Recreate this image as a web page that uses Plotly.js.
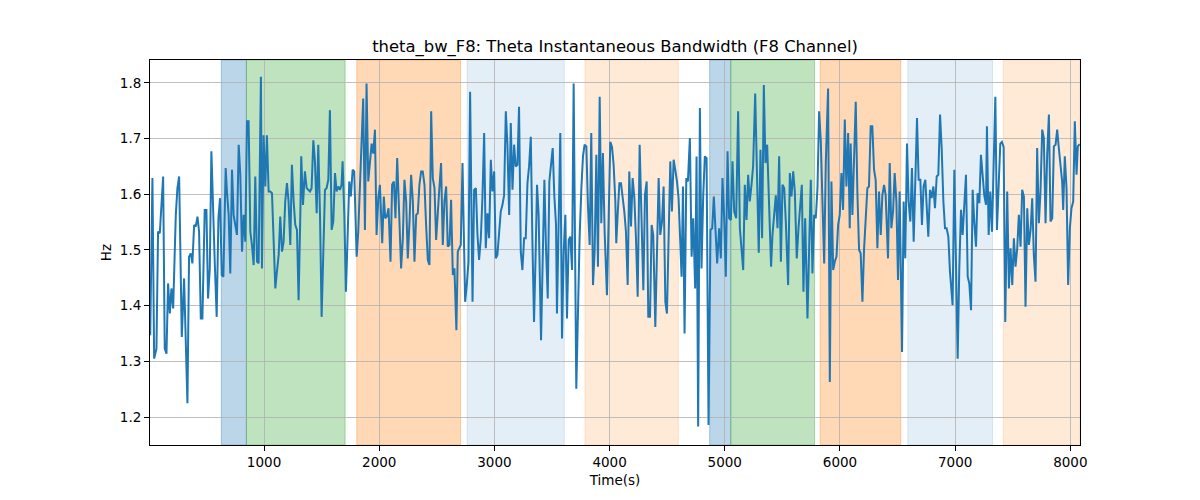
<!DOCTYPE html>
<html>
<head>
<meta charset="utf-8">
<script src="https://cdn.plot.ly/plotly-3.0.1.min.js"></script>
<style>
  html, body { margin: 0; padding: 0; background: #fff; }
  #graph { width: 1200px; height: 500px; }
</style>
</head>
<body>
<div id="graph"></div>
<script>
/* ---------------- data ---------------- */

// time stamps (s) of the bandwidth samples
var times = [
    12, 31, 46, 66, 80, 95, 124, 138, 153, 167, 182, 196, 211, 234, 248, 263, 286, 306, 335, 349,
    364, 378, 393, 407, 422, 436, 451, 465, 485, 500, 514, 529, 543, 558, 572, 589, 604, 618, 633, 647,
    667,
    678, 693, 707, 722, 736, 751, 765, 780, 794, 809, 823, 837, 852, 866, 881, 895, 910, 924, 939, 953,
    973, 982, 996, 1011, 1025, 1040, 1054, 1069, 1083, 1098, 1112, 1127, 1141, 1156, 1170, 1184, 1199, 1213, 1228, 1242,
    1257, 1271, 1286, 1300, 1315, 1323, 1338,
    1355, 1370, 1384, 1399, 1413, 1428, 1442, 1457, 1471, 1486, 1500, 1514, 1529, 1543, 1558, 1572, 1587, 1601, 1616, 1630,
    1645, 1659, 1673, 1682, 1697, 1711, 1725, 1740, 1754, 1769, 1783, 1804, 1818, 1832, 1847, 1861, 1876, 1890, 1905, 1919,
    1934, 1948, 1963, 1977, 1992, 2006,
    2026, 2040, 2052, 2066, 2081, 2098, 2112, 2127, 2141, 2156, 2170, 2190, 2205, 2219, 2234, 2248, 2263, 2277, 2292, 2306,
    2321, 2335, 2349, 2364, 2378, 2393, 2407, 2422, 2436, 2451, 2465, 2480, 2494, 2509, 2523, 2537, 2552, 2566, 2581, 2595,
    2610, 2624, 2639, 2653, 2670, 2682,
    2708, 2723, 2746, 2760, 2775, 2789, 2810, 2824, 2839, 2853, 2867, 2882, 2896, 2911, 2925, 2940, 2954, 2969, 2983, 2998,
    3012, 3026, 3041, 3055, 3070, 3084, 3099, 3113, 3128, 3142, 3157, 3171, 3185, 3200, 3214, 3229, 3243, 3258, 3272, 3287,
    3301, 3316, 3330, 3344, 3359,
    3370, 3384, 3405, 3419, 3434, 3448, 3463, 3477, 3491, 3506, 3520, 3535, 3543, 3558, 3572, 3587, 3601, 3616, 3630, 3645,
    3659, 3674, 3688, 3711, 3726, 3740, 3755, 3769, 3783, 3798, 3812, 3827, 3841, 3856, 3870, 3885, 3899, 3914, 3928, 3942,
    3957, 3977, 3992, 4006, 4021, 4035, 4050,
    4058, 4070, 4085, 4099, 4114, 4128, 4142, 4157, 4171, 4186, 4200, 4215, 4229, 4244, 4261, 4278, 4293, 4307, 4322, 4336,
    4351, 4365, 4379, 4397, 4411, 4426, 4440, 4455, 4469, 4484, 4498, 4512, 4527, 4541, 4556, 4570, 4585, 4599, 4614, 4625,
    4637, 4651, 4666, 4680, 4697, 4712, 4726,
    4743, 4755, 4769, 4784, 4798, 4813, 4827, 4842, 4859, 4876, 4891, 4905, 4920, 4934, 4951, 4966, 4980, 4995, 5009, 5024,
    5038, 5053, 5067, 5082, 5099, 5116, 5131, 5145, 5160, 5174, 5189, 5203, 5217, 5232, 5246, 5264, 5278, 5295, 5310, 5324,
    5339, 5353, 5368, 5382, 5402,
    5414, 5429, 5443, 5458, 5472, 5487, 5501, 5516, 5530, 5550, 5565, 5579, 5594, 5608, 5625, 5640, 5654, 5669, 5683, 5698,
    5718, 5732, 5747, 5761, 5776, 5790, 5805, 5819, 5834, 5848, 5863, 5877, 5897, 5912, 5926, 5941, 5955, 5970, 5984, 5998,
    6013, 6027, 6042, 6056, 6071, 6085,
    6093, 6108, 6122, 6137, 6151, 6166, 6180, 6195, 6209, 6223, 6238, 6252, 6267, 6281, 6296, 6310, 6325, 6339, 6354, 6368,
    6383, 6397, 6417, 6432, 6446, 6461, 6475, 6490, 6504, 6518, 6539, 6553, 6567, 6582, 6596, 6611, 6625, 6640, 6654, 6669,
    6683, 6698, 6712, 6726, 6741,
    6767, 6782, 6796, 6811, 6825, 6840, 6854, 6869, 6883, 6898, 6912, 6926, 6941, 6955, 6978, 6993, 7007, 7022, 7036, 7051,
    7065, 7080, 7094, 7109, 7123, 7138, 7152, 7166, 7181, 7195, 7210, 7224, 7239, 7253, 7268, 7276, 7291, 7305, 7320, 7334,
    7349, 7363, 7377, 7392, 7406, 7421, 7435,
    7452, 7467, 7481, 7496, 7510, 7524, 7539, 7553, 7568, 7582, 7597, 7611, 7626, 7640, 7655, 7669, 7683, 7698, 7712, 7727,
    7741, 7756, 7770, 7785, 7799, 7814, 7828, 7843, 7857, 7872, 7886, 7900, 7915, 7929, 7938, 7952, 7967, 7981, 7996, 8010,
    8025, 8039, 8054, 8065, 8080
];

// theta instantaneous bandwidth (Hz)
var bandwidth = [
    1.347, 1.629, 1.305, 1.323, 1.533, 1.530, 1.632, 1.323, 1.314, 1.440, 1.386, 1.431, 1.395, 1.563, 1.611, 1.632, 1.344, 1.449, 1.225, 1.488,
    1.494, 1.476, 1.545, 1.542, 1.560, 1.533, 1.377, 1.377, 1.572, 1.572, 1.413, 1.467, 1.677, 1.551, 1.479, 1.380, 1.557, 1.593, 1.455, 1.452,
    1.647,
    1.605, 1.563, 1.458, 1.644, 1.563, 1.545, 1.527, 1.689, 1.635, 1.497, 1.563, 1.515, 1.731, 1.731, 1.533, 1.509, 1.473, 1.632, 1.479, 1.476,
    1.811, 1.467, 1.706, 1.614, 1.706, 1.605, 1.605, 1.602, 1.515, 1.431, 1.461, 1.491, 1.560, 1.497, 1.515, 1.587, 1.620, 1.587, 1.509, 1.653,
    1.587, 1.545, 1.536, 1.410, 1.563, 1.668, 1.581,
    1.641, 1.611, 1.608, 1.605, 1.611, 1.697, 1.659, 1.566, 1.689, 1.563, 1.380, 1.515, 1.608, 1.611, 1.626, 1.751, 1.536, 1.551, 1.638, 1.605,
    1.614, 1.608, 1.617, 1.659, 1.563, 1.425, 1.539, 1.623, 1.596, 1.644, 1.641, 1.488, 1.533, 1.623, 1.712, 1.772, 1.536, 1.799, 1.623, 1.653,
    1.691, 1.673, 1.716, 1.527, 1.593, 1.617,
    1.512, 1.596, 1.557, 1.560, 1.575, 1.479, 1.617, 1.623, 1.557, 1.665, 1.593, 1.467, 1.521, 1.626, 1.587, 1.485, 1.551, 1.635, 1.587, 1.479,
    1.563, 1.566, 1.617, 1.641, 1.641, 1.617, 1.545, 1.482, 1.473, 1.749, 1.629, 1.611, 1.518, 1.581, 1.614, 1.656, 1.509, 1.587, 1.614, 1.506,
    1.509, 1.590, 1.455, 1.467, 1.356, 1.497,
    1.509, 1.656, 1.407, 1.437, 1.479, 1.784, 1.407, 1.608, 1.611, 1.527, 1.482, 1.521, 1.593, 1.710, 1.503, 1.566, 1.521, 1.662, 1.605, 1.641,
    1.485, 1.491, 1.539, 1.569, 1.581, 1.598, 1.749, 1.689, 1.563, 1.728, 1.608, 1.689, 1.650, 1.653, 1.757, 1.497, 1.464, 1.521, 1.521, 1.620,
    1.650, 1.703, 1.515, 1.371, 1.503,
    1.617, 1.563, 1.338, 1.479, 1.626, 1.503, 1.413, 1.623, 1.659, 1.683, 1.598, 1.545, 1.386, 1.551, 1.710, 1.341, 1.494, 1.563, 1.377, 1.518,
    1.524, 1.464, 1.799, 1.251, 1.419, 1.524, 1.611, 1.668, 1.689, 1.686, 1.581, 1.509, 1.710, 1.437, 1.497, 1.671, 1.470, 1.775, 1.548, 1.674,
    1.533, 1.419, 1.557, 1.694, 1.685, 1.653, 1.587,
    1.512, 1.563, 1.620, 1.620, 1.598, 1.569, 1.533, 1.437, 1.641, 1.542, 1.629, 1.593, 1.521, 1.416, 1.689, 1.521, 1.428, 1.598, 1.623, 1.380,
    1.380, 1.545, 1.527, 1.362, 1.515, 1.629, 1.527, 1.551, 1.614, 1.407, 1.386, 1.533, 1.659, 1.569, 1.662, 1.644, 1.623, 1.593, 1.488, 1.452,
    1.614, 1.350, 1.629, 1.623, 1.701, 1.488, 1.557,
    1.431, 1.668, 1.183, 1.755, 1.467, 1.598, 1.668, 1.665, 1.186, 1.536, 1.539, 1.596, 1.545, 1.476, 1.539, 1.485, 1.629, 1.557, 1.452, 1.677,
    1.557, 1.554, 1.659, 1.569, 1.557, 1.749, 1.539, 1.503, 1.464, 1.617, 1.554, 1.635, 1.587, 1.617, 1.650, 1.781, 1.623, 1.495, 1.680, 1.521,
    1.796, 1.656, 1.689, 1.611, 1.470,
    1.527, 1.563, 1.598, 1.539, 1.668, 1.479, 1.617, 1.611, 1.551, 1.437, 1.638, 1.596, 1.641, 1.605, 1.485, 1.539, 1.587, 1.617, 1.425, 1.557,
    1.377, 1.515, 1.626, 1.458, 1.563, 1.557, 1.611, 1.749, 1.694, 1.587, 1.476, 1.656, 1.790, 1.263, 1.623, 1.464, 1.479, 1.488, 1.545, 1.563,
    1.638, 1.572, 1.734, 1.614, 1.710, 1.539,
    1.691, 1.563, 1.677, 1.766, 1.605, 1.500, 1.494, 1.407, 1.500, 1.551, 1.611, 1.614, 1.722, 1.722, 1.644, 1.626, 1.503, 1.605, 1.527, 1.598,
    1.617, 1.598, 1.485, 1.656, 1.539, 1.569, 1.638, 1.587, 1.446, 1.605, 1.317, 1.587, 1.485, 1.691, 1.587, 1.551, 1.647, 1.515, 1.629, 1.737,
    1.626, 1.626, 1.545, 1.614, 1.626,
    1.524, 1.608, 1.593, 1.614, 1.575, 1.632, 1.635, 1.743, 1.683, 1.587, 1.539, 1.539, 1.524, 1.461, 1.401, 1.644, 1.491, 1.305, 1.467, 1.572,
    1.527, 1.575, 1.635, 1.452, 1.440, 1.392, 1.608, 1.551, 1.506, 1.602, 1.584, 1.671, 1.623, 1.598, 1.581, 1.722, 1.527, 1.605, 1.533, 1.671,
    1.775, 1.536, 1.623, 1.691, 1.694, 1.685, 1.371,
    1.605, 1.431, 1.503, 1.437, 1.521, 1.470, 1.503, 1.563, 1.506, 1.608, 1.596, 1.398, 1.575, 1.509, 1.536, 1.593, 1.491, 1.443, 1.683, 1.548,
    1.605, 1.716, 1.701, 1.548, 1.671, 1.743, 1.551, 1.557, 1.686, 1.689, 1.716, 1.683, 1.653, 1.623, 1.572, 1.668, 1.611, 1.437, 1.539, 1.575,
    1.587, 1.731, 1.635, 1.686, 1.690
];

// shaded stage intervals (s)
var bandStart = [629, 847, 1805, 2764, 3786, 4869, 5052, 5828, 6589, 7418];
var bandEnd   = [847, 1704, 2706, 3607, 4597, 5052, 5779, 6528, 7325, 8084];
var bandKind  = ['blue', 'green', 'orange', 'paleBlue', 'paleOrange',
                 'blue', 'green', 'orange', 'paleBlue', 'paleOrange'];

var xTicks = [1000, 2000, 3000, 4000, 5000, 6000, 7000, 8000];
var yTicks = [1.2, 1.3, 1.4, 1.5, 1.6, 1.7, 1.8];

/* ---------------- styling ---------------- */

var bandFill = {
    blue: 'rgba(31, 119, 180, 0.3)',
    green: 'rgba(44, 160, 44, 0.3)',
    orange: 'rgba(255, 127, 14, 0.3)',
    paleBlue: 'rgba(31, 119, 180, 0.12)',
    paleOrange: 'rgba(255, 127, 14, 0.16)'
};

// matplotlib's axvspan draws a faint edge in the same colour
var bandEdge = {
    blue: 'rgba(31, 119, 180, 0.35)',
    green: 'rgba(44, 160, 44, 0.35)',
    orange: 'rgba(255, 127, 14, 0.35)',
    paleBlue: 'rgba(31, 119, 180, 0.14)',
    paleOrange: 'rgba(255, 127, 14, 0.18)'
};

var shapes = bandStart.map(function(s, i) {
    return {
        type: 'rect',
        xref: 'x',
        yref: 'paper',
        x0: s,
        x1: bandEnd[i],
        y0: 0,
        y1: 1,
        fillcolor: bandFill[bandKind[i]],
        line: {width: 1, color: bandEdge[bandKind[i]]},
        layer: 'below'
    };
});

var trace = {
    x: times,
    y: bandwidth,
    mode: 'lines',
    line: {color: '#1f77b4', width: 2},
    showlegend: false,
    hoverinfo: 'skip'
};

var font = 'DejaVu Sans, sans-serif';

var layout = {
    width: 1200,
    height: 500,
    margin: {l: 150, r: 120, t: 60, b: 55},
    paper_bgcolor: 'white',
    plot_bgcolor: 'white',
    font: {family: font, size: 14, color: 'black'},
    title: {
        text: 'theta_bw_F8: Theta Instantaneous Bandwidth (F8 Channel)',
        font: {family: font, size: 16.4, color: 'black'},
        x: 0.5,
        xref: 'paper',
        xanchor: 'center',
        y: 0.908,
        yref: 'container',
        yanchor: 'middle'
    },
    xaxis: {
        range: [10, 8084],
        tickvals: xTicks,
        ticktext: xTicks.map(String),
        ticks: 'outside',
        ticklen: 5,
        tickcolor: 'black',
        tickfont: {family: font, size: 13.5},
        showgrid: true,
        gridcolor: '#b0b0b0',
        gridwidth: 0.8,
        zeroline: false,
        showline: true,
        linecolor: 'black',
        linewidth: 1,
        mirror: true,
        title: {text: 'Time(s)', font: {family: font, size: 13.5}, standoff: 6}
    },
    yaxis: {
        range: [1.150, 1.841],
        tickvals: yTicks,
        ticktext: yTicks.map(function(v) { return v.toFixed(1); }),
        ticks: 'outside',
        ticklen: 5,
        tickcolor: 'black',
        tickfont: {family: font, size: 13.5},
        showgrid: true,
        gridcolor: '#b0b0b0',
        gridwidth: 0.8,
        zeroline: false,
        showline: true,
        linecolor: 'black',
        linewidth: 1,
        mirror: true,
        title: {text: 'Hz', font: {family: font, size: 13.5}, standoff: 5}
    },
    shapes: shapes
};

var graph = document.getElementById('graph');
Plotly.newPlot(graph, [trace], layout, {staticPlot: true});
</script>
</body>
</html>
